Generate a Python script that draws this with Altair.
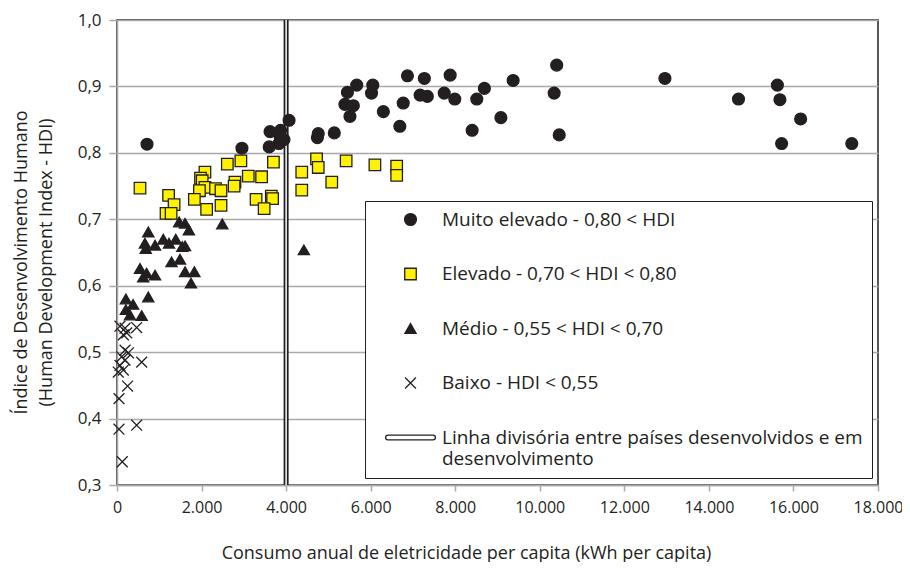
import altair as alt
import pandas as pd

FONT = "Open Sans"
DARK = "#231f20"
GRID = "#a9a9ab"

cats = [
    "Muito elevado - 0,80 < HDI",
    "Elevado - 0,70 < HDI < 0,80",
    "Médio - 0,55 < HDI < 0,70",
    "Baixo - HDI < 0,55",
    "Linha divisória entre países desenvolvidos e em desenvolvimento",
]

# Muito elevado (circles)
muito_x = [710, 2955, 3600, 3620, 3830, 3870, 3950, 3860, 4070, 4740, 4760, 5140,
           5390, 5450, 5510, 5590, 5670, 6020, 6050, 6300, 6690, 6770, 6870, 7170,
           7270, 7340, 7740, 7880, 7990, 8400, 8510, 8690, 9080, 9370, 10340, 10400,
           10460, 12960, 14700, 15620, 15680, 15720, 16170, 17380]
muito_y = [0.813, 0.807, 0.809, 0.832, 0.814, 0.834, 0.820, 0.824, 0.849, 0.823, 0.829, 0.830,
           0.873, 0.891, 0.855, 0.871, 0.902, 0.890, 0.902, 0.862, 0.840, 0.875, 0.916, 0.887,
           0.912, 0.885, 0.890, 0.917, 0.881, 0.834, 0.881, 0.897, 0.853, 0.909, 0.890, 0.932,
           0.827, 0.912, 0.881, 0.902, 0.880, 0.814, 0.851, 0.814]

# Elevado (squares)
elev_x = [544, 1220, 1350, 1160, 1280, 2080, 1975, 2015, 2080, 1950, 1830, 2120,
          2330, 2460, 2460, 2610, 2930, 2790, 2770, 3105, 3420, 3700, 3290, 3650,
          3680, 3480, 4370, 4370, 4720, 4760, 5080, 5420, 6100, 6615, 6615]
elev_y = [0.747, 0.736, 0.722, 0.709, 0.709, 0.771, 0.762, 0.758, 0.748, 0.743, 0.730, 0.715,
          0.746, 0.743, 0.721, 0.783, 0.788, 0.756, 0.750, 0.765, 0.764, 0.786, 0.730, 0.735,
          0.731, 0.716, 0.771, 0.744, 0.791, 0.778, 0.756, 0.788, 0.782, 0.780, 0.766]

# Médio (triangles)
medio_x = [740, 660, 680, 900, 1095, 1230, 1390, 1470, 1610, 1700, 2490, 1545, 1610,
           1290, 1490, 544, 700, 900, 620, 1610, 1830, 1750, 210, 380, 740, 210, 307,
           584, 4420]
medio_y = [0.681, 0.664, 0.656, 0.661, 0.670, 0.664, 0.670, 0.696, 0.694, 0.684, 0.693, 0.659, 0.660,
           0.636, 0.640, 0.626, 0.619, 0.616, 0.613, 0.621, 0.621, 0.604, 0.580, 0.572, 0.583, 0.564, 0.556,
           0.555, 0.654]

# Baixo (crosses)
baixo_x = [70, 190, 465, 150, 230, 190, 270, 110, 190, 584, 71, 150, 30, 250, 47, 465, 47, 125]
baixo_y = [0.539, 0.536, 0.537, 0.526, 0.529, 0.503, 0.499, 0.493, 0.488, 0.485, 0.480, 0.473,
           0.470, 0.449, 0.430, 0.390, 0.384, 0.335]

divider_x = [4000]

x_ticks = [0, 2000, 4000, 6000, 8000, 10000, 12000, 14000, 16000, 18000]
y_ticks = [0.3, 0.4, 0.5, 0.6, 0.7, 0.8, 0.9, 1.0]

rows = []
for cat, xs, ys in [(cats[0], muito_x, muito_y), (cats[1], elev_x, elev_y),
                    (cats[2], medio_x, medio_y), (cats[3], baixo_x, baixo_y)]:
    for xv, yv in zip(xs, ys):
        rows.append({"x": xv, "y": yv, "cat": cat})
df = pd.DataFrame(rows)
df_div = pd.DataFrame({"x": divider_x})

x_path = "M-1,-1L1,1M-1,1L1,-1"
line_path = ("M-4.3,-0.45L4.3,-0.45A0.45,0.45 0 0 1 4.3,0.45L-4.3,0.45"
             "A0.45,0.45 0 0 1 -4.3,-0.45Z")

leg_kwargs = dict(
    title=None, orient="none", legendX=248, legendY=181,
    padding=9, strokeColor=DARK, fillColor="white",
    labelFont=FONT, labelFontSize=19, labelColor=DARK, labelLimit=700,
    labelOffset=22, rowPadding=34.5, symbolOffset=27, symbolStrokeWidth=1.3,
    symbolOpacity=1,
    labelExpr="indexof(datum.label, 'Linha') == 0 ? "
              "['Linha divisória entre países desenvolvidos e em', 'desenvolvimento'] : datum.label",
)


def make_legend():
    try:
        lg = alt.Legend(encode={"labels": {"update": {"lineHeight": {"value": 25}}}}, **leg_kwargs)
        lg.to_dict()
        return lg
    except Exception:
        return alt.Legend(**leg_kwargs)


leg = make_legend()

xenc = alt.X("x:Q", scale=alt.Scale(domain=[0, 18000], nice=False),
             axis=alt.Axis(values=x_ticks, grid=False, labelFlush=False,
                           labelExpr="replace(format(datum.value, ','), ',', '.')",
                           labelFont=FONT, labelFontSize=16, labelColor=DARK, labelPadding=8,
                           tickColor=GRID, tickSize=6, tickWidth=1.5,
                           domainColor=GRID, domainWidth=1.5,
                           title="Consumo anual de eletricidade per capita (kWh per capita)",
                           titleFont=FONT, titleFontSize=18, titleFontWeight="normal",
                           titleColor=DARK, titleX=349, titleY=73, titleBaseline="alphabetic"))
yenc = alt.Y("y:Q", scale=alt.Scale(domain=[0.3, 1.0], nice=False, zero=False),
             axis=alt.Axis(values=y_ticks, grid=True, gridColor=GRID, gridWidth=1.5,
                           labelExpr="replace(format(datum.value, '.1f'), '.', ',')",
                           labelFont=FONT, labelFontSize=17, labelColor=DARK, labelPadding=8,
                           tickColor=GRID, tickSize=8, tickWidth=1.5,
                           domainColor=GRID, domainWidth=1.5,
                           title=["Índice de Desenvolvimento Humano",
                                  "(Human Development Index - HDI)"],
                           titleFont=FONT, titleFontSize=18, titleFontWeight="normal",
                           titleColor=DARK, titleAngle=-90, titleX=-105, titleY=242,
                           titleAlign="center", titleBaseline="top", titleLineHeight=25))

rule_outer = alt.Chart(df_div).mark_rule(color=DARK, strokeWidth=5).encode(x=alt.X("x:Q"))
rule_inner = alt.Chart(df_div).mark_rule(color="white", strokeWidth=1.5).encode(x=alt.X("x:Q"))

points = alt.Chart(df).mark_point(filled=True, opacity=1, fillOpacity=1, strokeOpacity=1,
                                  strokeWidth=1.3).encode(
    x=xenc, y=yenc,
    shape=alt.Shape("cat:N", scale=alt.Scale(domain=cats,
                    range=["circle", "square", "triangle-up", x_path, line_path]), legend=leg),
    fill=alt.Fill("cat:N", scale=alt.Scale(domain=cats,
                  range=[DARK, "#fff200", DARK, "transparent", "white"]), legend=leg),
    stroke=alt.Stroke("cat:N", scale=alt.Scale(domain=cats,
                      range=[DARK, DARK, DARK, DARK, DARK]), legend=leg),
    size=alt.Size("cat:N", scale=alt.Scale(domain=cats,
                  range=[140, 110, 150, 90, 140]), legend=leg),
)

chart = alt.layer(rule_outer, rule_inner, points).properties(
    width=761, height=465,
    padding={"left": 109, "top": 12, "right": 24, "bottom": 77},
    autosize=alt.AutoSizeParams(type="none"),
).configure_view(stroke=DARK, strokeWidth=1.5)

chart.save("out.html", embed_options={"renderer": "svg", "actions": False})
